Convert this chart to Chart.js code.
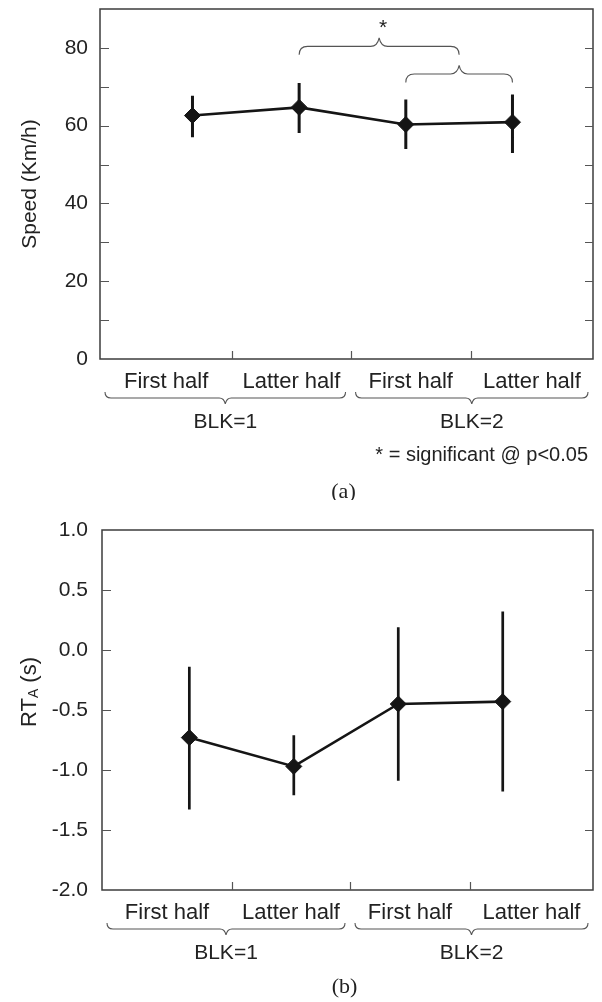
<!DOCTYPE html>
<html>
<head>
<meta charset="utf-8">
<title>Speed and RTA by block half</title>
<script src="https://cdn.jsdelivr.net/npm/chart.js@4.4.1/dist/chart.umd.min.js"></script>
<style>
  html, body { margin: 0; padding: 0; background: #fff; }
  #wrap { position: relative; width: 602px; height: 1002px; overflow: hidden; }
  .box { position: absolute; left: 0; width: 602px; }
  #boxA { top: 0; height: 500px; }
  #boxB { top: 500px; height: 502px; }
</style>
</head>
<body>
<div id="wrap">
  <div class="box" id="boxA"><canvas id="speedChart"></canvas></div>
  <div class="box" id="boxB"><canvas id="rtChart"></canvas></div>
</div>
<script>
// --- data ---
const categories = ['First half', 'Latter half', 'First half', 'Latter half'];
const slots = [1, 2, 3, 4];
const blockLabels = ['BLK=1', 'BLK=2'];
const blockSpans = [[0, 1], [2, 3]];

const speedMean = [62.6, 64.7, 60.3, 60.9];
const speedLow = [57.0, 58.1, 54.0, 53.0];
const speedHigh = [67.7, 71.0, 66.7, 68.0];
const speedLabelTicks = [0, 20, 40, 60, 80];

const rtMean = [-0.73, -0.97, -0.45, -0.43];
const rtLow = [-1.33, -1.21, -1.09, -1.18];
const rtHigh = [-0.14, -0.71, 0.19, 0.32];

// significance braces in the speed panel (x in slots, level in km/h)
const sigFrom = [2, 3];
const sigTo = [3.5, 4];
const sigLevel = [80.4, 73.3];
const sigMark = ['*', ''];

// RT_A axis title: main text, subscript, rest
const rtTitle = ['RT', 'A', ' (s)'];

const FONT = "'Liberation Sans', Arial, Helvetica, sans-serif";
const SERIF = "'Liberation Serif', 'Times New Roman', serif";
const INK = '#222';
const FRAME = '#3c3c3c';

function drawBrace(ctx, x0, x1, y, h, dir) {
  // dir = 1 -> tip points down, ends curl up; dir = -1 the other way
  const xm = (x0 + x1) / 2, r = h;
  ctx.beginPath();
  ctx.moveTo(x0, y - dir * h);
  ctx.quadraticCurveTo(x0, y, x0 + r, y);
  ctx.lineTo(xm - r, y);
  ctx.quadraticCurveTo(xm - r * 0.2, y, xm, y + dir * h);
  ctx.moveTo(xm, y + dir * h);
  ctx.quadraticCurveTo(xm + r * 0.2, y, xm + r, y);
  ctx.lineTo(x1 - r, y);
  ctx.quadraticCurveTo(x1, y, x1, y - dir * h);
  ctx.stroke();
}

function drawRtTitle(ctx, cx, cy) {
  const sizes = [22, 14, 22];
  const shifts = [0, 4, 0];
  let total = 0;
  rtTitle.forEach((t, i) => { ctx.font = `${sizes[i]}px ${FONT}`; total += ctx.measureText(t).width; });
  ctx.save();
  ctx.translate(cx, cy);
  ctx.rotate(-Math.PI / 2);
  ctx.textAlign = 'left';
  ctx.textBaseline = 'middle';
  let pos = -total / 2;
  rtTitle.forEach((t, i) => {
    ctx.font = `${sizes[i]}px ${FONT}`;
    ctx.fillText(t, pos, shifts[i]);
    pos += ctx.measureText(t).width;
  });
  ctx.restore();
}

const decorPlugin = {
  id: 'decor',
  beforeDatasetsDraw(chart, args, o) {
    const { ctx, chartArea: a, scales: { x, y } } = chart;
    ctx.save();
    // frame
    ctx.strokeStyle = FRAME;
    ctx.lineWidth = 1.5;
    ctx.strokeRect(a.left, a.top, a.right - a.left, a.bottom - a.top);
    // inner ticks
    ctx.lineWidth = 1.2;
    ctx.strokeStyle = '#555';
    ctx.beginPath();
    y.ticks.forEach(t => {
      if (t.value <= y.min || t.value >= y.max) return;
      const py = Math.round(y.getPixelForValue(t.value)) + 0.5;
      ctx.moveTo(a.left, py); ctx.lineTo(a.left + 9, py);
      ctx.moveTo(a.right, py); ctx.lineTo(a.right - 8, py);
    });
    o.bounds.forEach(b => {
      const px = Math.round(x.getPixelForValue(b)) + 0.5;
      ctx.moveTo(px, a.bottom); ctx.lineTo(px, a.bottom - 8);
    });
    ctx.stroke();
    // error bars
    const low = o.panel === 'a' ? speedLow : rtLow;
    const high = o.panel === 'a' ? speedHigh : rtHigh;
    ctx.strokeStyle = '#151515';
    ctx.lineWidth = o.errWidth;
    ctx.beginPath();
    slots.forEach((s, i) => {
      const px = x.getPixelForValue(s);
      ctx.moveTo(px, y.getPixelForValue(low[i]));
      ctx.lineTo(px, y.getPixelForValue(high[i]));
    });
    ctx.stroke();
    ctx.restore();
  },
  afterDraw(chart, args, o) {
    const { ctx, chartArea: a, scales: { x, y } } = chart;
    const edges = [x.min, ...o.bounds, x.max].map(v => x.getPixelForValue(v));
    ctx.save();
    ctx.fillStyle = INK;
    ctx.strokeStyle = '#555';
    ctx.lineWidth = 1.1;
    ctx.textAlign = 'center';
    ctx.textBaseline = 'middle';

    ctx.font = `22px ${FONT}`;
    categories.forEach((c, i) => ctx.fillText(c, (edges[i] + edges[i + 1]) / 2, a.bottom + 23));

    ctx.font = `21px ${FONT}`;
    blockLabels.forEach((b, k) => {
      const [i0, i1] = blockSpans[k];
      const l = edges[i0], r = edges[i1 + 1];
      const c = (l + r) / 2, half = (r - l) / 2 - 5;
      drawBrace(ctx, c - half, c + half, a.bottom + 39, 6, 1);
      ctx.fillText(b, c, a.bottom + 63);
    });

    if (o.panel === 'a') {
      sigFrom.forEach((f, i) => {
        const x0 = x.getPixelForValue(f), x1 = x.getPixelForValue(sigTo[i]);
        const py = y.getPixelForValue(sigLevel[i]);
        drawBrace(ctx, x0, x1, py, 8.5, -1);
        if (sigMark[i]) {
          ctx.font = `21px ${FONT}`;
          ctx.textBaseline = 'alphabetic';
          ctx.fillText(sigMark[i], (x0 + x1) / 2 + 4, py - 12);
          ctx.textBaseline = 'middle';
        }
      });
      ctx.font = `20px ${FONT}`;
      ctx.textAlign = 'right';
      ctx.fillText('* = significant @ p<0.05', a.right - 5, a.bottom + 96);
      ctx.textAlign = 'center';
    } else {
      drawRtTitle(ctx, 30, (a.top + a.bottom) / 2 - 18);
    }

    ctx.font = `22px ${SERIF}`;
    ctx.fillText(o.caption, (a.left + a.right) / 2 - 3, a.bottom + o.captionGap);
    ctx.restore();
  }
};

function lineDataset(mean) {
  return {
    data: slots.map((s, i) => ({ x: s, y: mean[i] })),
    borderColor: '#151515',
    borderWidth: 2.6,
    pointStyle: 'rectRot',
    pointRadius: 8,
    pointBorderWidth: 1,
    pointBackgroundColor: '#151515',
    pointBorderColor: '#151515',
    tension: 0
  };
}

function xAxis(min, max, height) {
  return {
    type: 'linear', min: min, max: max,
    ticks: { display: false },
    grid: { display: false },
    border: { display: false },
    afterFit(s) { s.height = height; s.paddingLeft = 0; s.paddingRight = 0; }
  };
}

Chart.register(decorPlugin);

new Chart(document.getElementById('speedChart'), {
  type: 'line',
  data: { datasets: [lineDataset(speedMean)] },
  options: {
    responsive: true, maintainAspectRatio: false, animation: false,
    layout: { padding: { left: 0, top: 5, right: 6, bottom: 0 } },
    scales: {
      x: xAxis(0.133, 4.755, 141),
      y: {
        min: 0, max: 90,
        afterFit(s) { s.width = 100; s.paddingTop = 0; s.paddingBottom = 0; },
        ticks: {
          stepSize: 10, autoSkip: false, padding: 12, color: INK,
          font: { family: FONT, size: 21 },
          callback: v => speedLabelTicks.includes(v) ? String(v) : ''
        },
        grid: { display: false, drawTicks: false },
        border: { display: false },
        title: { display: true, text: 'Speed (Km/h)', color: INK, font: { family: FONT, size: 21 }, padding: 18 }
      }
    },
    plugins: {
      legend: { display: false },
      tooltip: { enabled: false },
      decor: {
        panel: 'a',
        bounds: [1.373, 2.482, 3.61],
        errWidth: 3,
        caption: '(a)', captionGap: 133
      }
    }
  }
});

new Chart(document.getElementById('rtChart'), {
  type: 'line',
  data: { datasets: [lineDataset(rtMean)] },
  options: {
    responsive: true, maintainAspectRatio: false, animation: false,
    layout: { padding: { left: 0, top: 30, right: 5, bottom: 0 } },
    scales: {
      x: xAxis(0.164, 4.864, 112),
      y: {
        min: -2, max: 1,
        afterFit(s) { s.width = 102; s.paddingTop = 0; s.paddingBottom = 0; },
        ticks: {
          stepSize: 0.5, autoSkip: false, padding: 14, color: INK,
          font: { family: FONT, size: 21 },
          callback: v => Number(v).toFixed(1)
        },
        grid: { display: false, drawTicks: false },
        border: { display: false }
      }
    },
    plugins: {
      legend: { display: false },
      tooltip: { enabled: false },
      decor: {
        panel: 'b',
        bounds: [1.408, 2.538, 3.687],
        errWidth: 2.7,
        caption: '(b)', captionGap: 97
      }
    }
  }
});
</script>
</body>
</html>
